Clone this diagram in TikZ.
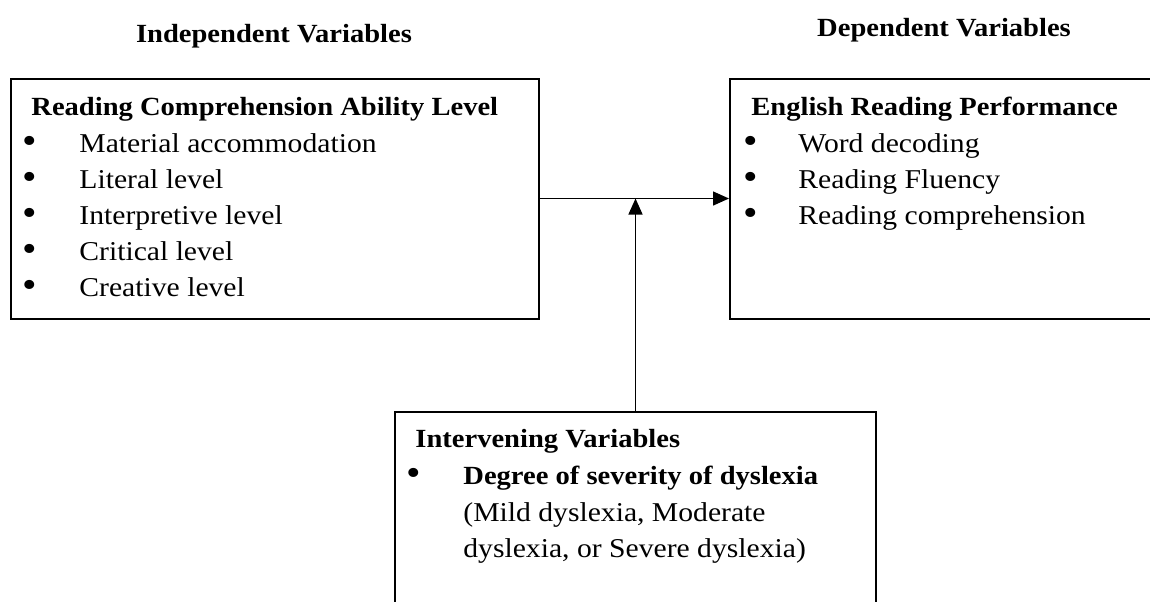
\documentclass[tikz,border=0pt]{standalone}
\usepackage{fontspec}
\setmainfont{Liberation Serif}[FakeStretch=1.09]
\usepackage{tikz}
\usetikzlibrary{arrows.meta}

\tikzset{
    varbox/.style={draw, line width=1pt, inner sep=0pt, anchor=north west},
    txt/.style={anchor=base west, inner sep=0pt, font=\fontsize{13.6}{16}\selectfont},
    head/.style={txt, font=\fontsize{13.1}{16}\selectfont\bfseries},
    dot/.style={txt, font=\fontsize{19}{16}\selectfont},
    link/.style={line width=0.7pt, -{Triangle[length=8pt, width=7pt]}}
}

\begin{document}
\begin{tikzpicture}[x=0.5pt, y=-0.5pt]
    \useasboundingbox (0,0) rectangle (1150,601);
    \clip (0,0) rectangle (1150,601);

    % Headings
    \node[head, anchor=base] (indep) at (274,42) {Independent Variables};
    \node[head, anchor=base] (dep) at (944,36) {Dependent Variables};

    % Independent box
    \node[varbox, minimum width=264pt, minimum height=120pt] (ability) at (10,77.5) {};
    \node[head] (abilitytitle) at (31,115) {Reading Comprehension Ability Level};
    \foreach \item [count=\i] in {Material accommodation, Literal level, Interpretive level, Critical level, Creative level} {
        \node[dot] (ab\i) at (22,117+36*\i) {\textbullet};
        \node[txt] (abt\i) at (79,116+36*\i) {\item};
    }

    % Dependent box (runs past the right edge)
    \node[varbox, minimum width=240pt, minimum height=120pt] (performance) at (729,77.5) {};
    \node[head] (perftitle) at (751,115) {English Reading Performance};
    \foreach \item [count=\i] in {Word decoding, Reading Fluency, Reading comprehension} {
        \node[dot] (pb\i) at (743,117+36*\i) {\textbullet};
        \node[txt] (pbt\i) at (798,116+36*\i) {\item};
    }

    % Intervening box (runs past the bottom edge)
    \node[varbox, minimum width=240.5pt, minimum height=130pt] (intervene) at (394,411) {};
    \node[head] (inttitle) at (415,447) {Intervening Variables};
    \node[dot] (ib1) at (406,485) {\textbullet};
    \node[head] (ibt1) at (463,484) {Degree of severity of dyslexia};
    \node[txt] (ibt2) at (463,521) {(Mild dyslexia, Moderate};
    \node[txt] (ibt3) at (463,557) {dyslexia, or Severe dyslexia)};

    % Connectors
    \coordinate (meet) at (intervene.north |- ability.east);
    \draw[link] (ability.east) -- (performance.west);
    \draw[link] (intervene.north) -- (meet);
\end{tikzpicture}
\end{document}
